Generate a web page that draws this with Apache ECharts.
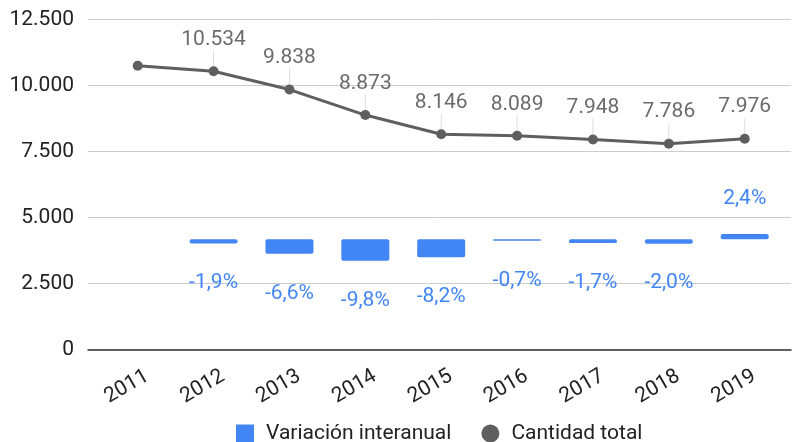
<!DOCTYPE html>
<html>
<head>
<meta charset="utf-8">
<script src="https://cdn.jsdelivr.net/npm/echarts@6/dist/echarts.min.js"></script>
<style>
html,body{margin:0;padding:0;background:#fff;}
#chart{width:792px;height:442px;}
</style>
</head>
<body>
<div id="chart"></div>
<script>
var years = ['2011','2012','2013','2014','2015','2016','2017','2018','2019'];
var variacion = [null, -1.9, -6.6, -9.8, -8.2, -0.7, -1.7, -2.0, 2.4];
var cantidad = [10738, 10534, 9838, 8873, 8146, 8089, 7948, 7786, 7976];
var yTicks = [0, 2500, 5000, 7500, 10000, 12500];

function fmtThousands(v) {
  var s = String(Math.round(v));
  return s.replace(/\B(?=(\d{3})+(?!\d))/g, '.');
}

var BLUE = '#4285F4';
var GRAY = '#5f5f5f';
var FONT = 'Roboto';

var yearIdx = years.map(function (y, i) { return i; });

var barData = [];
variacion.forEach(function (v, i) {
  if (v === null) return;
  barData.push({
    value: [i, v],
    label: { position: v < 0 ? 'bottom' : 'top', distance: v < 0 ? 29 : 25 }
  });
});

var lineData = cantidad.map(function (v, i) {
  return { value: [i, v], label: { show: i !== 0 } };
});

var chart = echarts.init(document.getElementById('chart'), null, { renderer: 'canvas' });
chart.setOption({
  animation: false,
  textStyle: { fontFamily: FONT },
  grid: { left: 88, right: 1, top: 19.3, bottom: 92.7, containLabel: false },
  legend: {
    left: 231,
    top: 418,
    itemWidth: 18,
    itemHeight: 18,
    itemGap: 30,
    textStyle: { fontFamily: FONT, fontSize: 21, color: '#222', padding: [0, 0, 0, 7] },
    data: [
      { name: 'Variación interanual', icon: 'rect' },
      { name: 'Cantidad total', icon: 'circle' }
    ]
  },
  xAxis: {
    type: 'value',
    min: -0.655,
    max: 8.61,
    splitLine: { show: false },
    axisLine: { show: true, onZero: false, lineStyle: { color: '#333', width: 1.5 } },
    axisTick: { show: false },
    axisLabel: {
      customValues: yearIdx,
      rotate: 30, margin: 31, fontSize: 21, color: '#222', fontFamily: FONT,
      align: 'center', verticalAlign: 'middle', padding: [0, 25, 0, 0],
      formatter: function (v) {
        var r = Math.round(v);
        return years[r] || '';
      }
    }
  },
  yAxis: [
    {
      type: 'value',
      min: yTicks[0],
      max: yTicks[yTicks.length - 1],
      interval: 2500,
      axisLine: { show: false },
      axisTick: { show: false },
      splitLine: { lineStyle: { color: '#cccccc', width: 1 } },
      axisLabel: {
        margin: 14, fontSize: 21, color: '#222', fontFamily: FONT,
        formatter: function (v) { return fmtThousands(v); }
      }
    },
    {
      type: 'value',
      min: -50,
      max: 100,
      show: false,
      splitLine: { show: false }
    }
  ],
  series: [
    {
      name: 'Variación interanual',
      type: 'bar',
      yAxisIndex: 1,
      barWidth: 48,
      itemStyle: { color: BLUE, borderRadius: 2 },
      label: {
        show: true,
        fontSize: 21,
        color: BLUE,
        fontFamily: FONT,
        formatter: function (p) { return p.value[1].toFixed(1).replace('.', ',') + '%'; }
      },
      data: barData
    },
    {
      name: 'Cantidad total',
      type: 'line',
      yAxisIndex: 0,
      symbol: 'circle',
      symbolSize: 10,
      lineStyle: { color: GRAY, width: 3 },
      itemStyle: { color: GRAY },
      label: {
        show: true,
        position: 'top',
        distance: 5,
        fontSize: 21,
        color: '#6b6b6b',
        fontFamily: FONT,
        formatter: function (p) { return fmtThousands(p.value[1]); }
      },
      labelLayout: { dy: -11 },
      labelLine: { show: true, lineStyle: { color: '#dddddd', width: 1 } },
      data: lineData,
      z: 3
    }
  ]
});
</script>
</body>
</html>
